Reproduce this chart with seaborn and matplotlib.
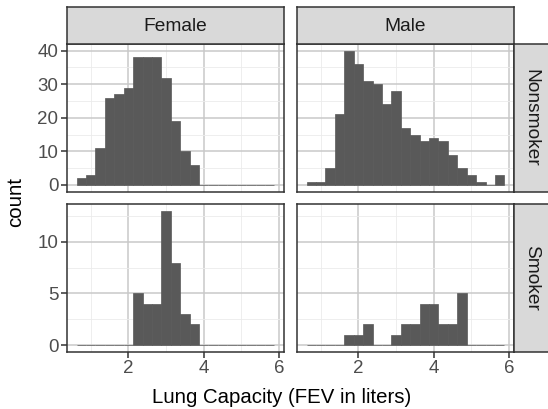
import numpy as np
import pandas as pd
import seaborn as sns
import matplotlib
matplotlib.use("Agg")
import matplotlib.pyplot as plt

# ---- data (bin centres of width-0.25 bins and counts) ----
bin_centers = [0.75, 1.0, 1.25, 1.5, 1.75, 2.0, 2.25, 2.5, 2.75, 3.0, 3.25,
               3.5, 3.75, 4.0, 4.25, 4.5, 4.75, 5.0, 5.25, 5.5, 5.75]
female_nonsmoker = [2, 3, 11, 26, 27, 29, 38, 38, 38, 32, 19, 10, 6, 0, 0, 0, 0, 0, 0, 0, 0]
male_nonsmoker = [1, 1, 5, 21, 40, 36, 31, 30, 24, 28, 17, 15, 13, 14, 13, 9, 5, 3, 1, 0, 3]
female_smoker = [0, 0, 0, 0, 0, 0, 5, 4, 4, 13, 8, 3, 2, 0, 0, 0, 0, 0, 0, 0, 0]
male_smoker = [0, 0, 0, 0, 1, 1, 2, 0, 0, 1, 2, 2, 4, 4, 2, 2, 5, 0, 0, 0, 0]
sexes = ["Female", "Male"]
smoke_levels = ["Nonsmoker", "Smoker"]

series = {("Female", "Nonsmoker"): female_nonsmoker,
          ("Male", "Nonsmoker"): male_nonsmoker,
          ("Female", "Smoker"): female_smoker,
          ("Male", "Smoker"): male_smoker}
rows = []
for (sex, sm), counts in series.items():
    for c, n in zip(bin_centers, counts):
        rows.append({"sex": sex, "smoke": sm, "fev": c, "count": n})
df = pd.DataFrame(rows)

sns.set_theme(style="white")
plt.rcParams["font.family"] = ["Liberation Sans", "DejaVu Sans"]

W, H = 548, 409
g = sns.FacetGrid(df, row="smoke", col="sex", row_order=smoke_levels,
                  col_order=sexes, sharex=True, sharey="row", despine=False,
                  height=2, aspect=1.3)
g.map_dataframe(sns.histplot, x="fev", weights="count", binwidth=0.25,
                binrange=(0.625, 5.875), color="#595959", alpha=1,
                edgecolor="#595959", linewidth=0.5)
fig = g.figure
fig.set_size_inches(W / 100, H / 100)
fig.set_dpi(100)
g.set_titles("")
g.set_axis_labels("", "")


def rect(x0, y0, x1, y1):
    return [x0 / W, 1 - y1 / H, (x1 - x0) / W, (y1 - y0) / H]


colx = [(66.7, 284.3), (296.7, 514.3)]
rowy = [(44.0, 191.7), (204.3, 351.7)]
ylims = [(-2, 42), (-0.65, 13.65)]
yticks = [([0, 10, 20, 30, 40], [5, 15, 25, 35]), ([0, 5, 10], [2.5, 7.5, 12.5])]

tick_size = 13.5
strip_size = 13.8
for i in range(2):
    for j in range(2):
        ax = g.axes[i, j]
        ax.set_position(rect(colx[j][0], rowy[i][0], colx[j][1], rowy[i][1]))
        ax.set_xlim(0.3625, 6.1375)
        ax.set_ylim(*ylims[i])
        ax.set_xticks([2, 4, 6])
        ax.set_xticks([1, 3, 5], minor=True)
        ax.set_yticks(yticks[i][0])
        ax.set_yticks(yticks[i][1], minor=True)
        ax.set_xticklabels(["2", "4", "6"])
        ax.set_yticklabels([str(v) for v in yticks[i][0]])
        ax.set_facecolor("white")
        ax.grid(which="major", color="#C9C9C9", linewidth=1.1)
        ax.grid(which="minor", color="#EBEBEB", linewidth=0.6)
        ax.set_axisbelow(True)
        for s in ax.spines.values():
            s.set_color("#333333")
            s.set_linewidth(1.1)
            s.set_visible(True)
        ax.tick_params(which="minor", length=0)
        ax.tick_params(which="major", length=4, width=1.1, color="#333333",
                       labelcolor="#4D4D4D", labelsize=tick_size, pad=2,
                       bottom=(i == 1), left=(j == 0),
                       labelbottom=(i == 1), labelleft=(j == 0))
        ax.set_xlabel("")
        ax.set_ylabel("")

# strips
for j, name in enumerate(sexes):
    sax = fig.add_axes(rect(colx[j][0], 6.7, colx[j][1], 44.0))
    sax.set_facecolor("#D9D9D9")
    sax.set_xticks([]); sax.set_yticks([])
    for s in sax.spines.values():
        s.set_color("#333333"); s.set_linewidth(1.1)
    sax.text(0.5, 0.47, name, ha="center", va="center", fontsize=strip_size,
             color="#1A1A1A", transform=sax.transAxes)
for i, name in enumerate(smoke_levels):
    sax = fig.add_axes(rect(514.3, rowy[i][0], 552.0, rowy[i][1]))
    sax.set_facecolor("#D9D9D9")
    sax.set_xticks([]); sax.set_yticks([])
    for s in sax.spines.values():
        s.set_color("#333333"); s.set_linewidth(1.1)
    sax.text(0.45, 0.5, name, ha="center", va="center", fontsize=strip_size,
             rotation=-90, color="#1A1A1A", transform=sax.transAxes)

fig.text(16 / W, 1 - 202 / H, "count", rotation=90, ha="center", va="center",
         fontsize=14.7, color="black")
fig.text(282 / W, 1 - 403 / H, "Lung Capacity (FEV in liters)", ha="center",
         va="baseline", fontsize=14.7, color="black")

fig.savefig("out.png", dpi=100, facecolor="white")
